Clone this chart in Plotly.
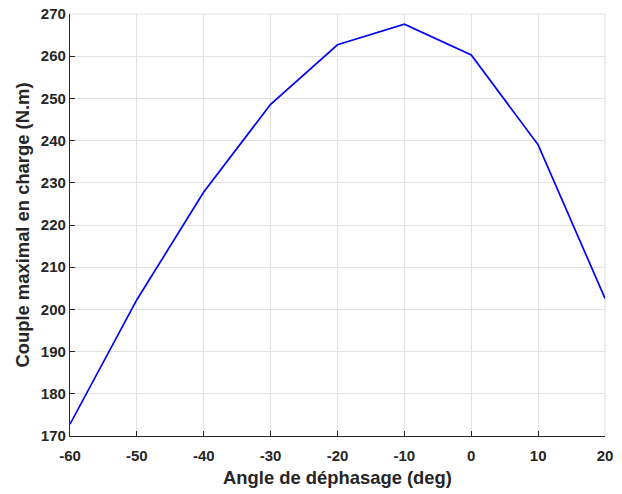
import plotly.graph_objects as go

# Phase shift angle (deg) and maximum load torque (N.m)
angle_deg = [-60, -50, -40, -30, -20, -10, 0, 10, 20]
torque_nm = [172.8, 202.3, 227.8, 248.6, 262.7, 267.6, 260.3, 239.0, 202.6]

x_ticks = [-60, -50, -40, -30, -20, -10, 0, 10, 20]
y_ticks = [170, 180, 190, 200, 210, 220, 230, 240, 250, 260, 270]

axis_color = "#262626"
grid_color = "#e1e1e1"
font_family = "Liberation Sans, Arial, sans-serif"

fig = go.Figure()
fig.add_trace(go.Scatter(
    x=angle_deg, y=torque_nm, mode="lines",
    line=dict(color="#0000ff", width=1.7),
    showlegend=False,
))

fig.update_layout(
    width=622, height=494,
    margin=dict(l=70, r=17, t=14, b=58),
    paper_bgcolor="white", plot_bgcolor="white",
    font=dict(family=font_family, color=axis_color),
    # light box edges along the top and right of the axes
    shapes=[
        dict(type="line", xref="paper", yref="paper", x0=0, x1=1, y0=1, y1=1,
             line=dict(color=grid_color, width=1.2), layer="below"),
        dict(type="line", xref="paper", yref="paper", x0=1, x1=1, y0=0, y1=1,
             line=dict(color=grid_color, width=1.2), layer="below"),
    ],
)

fig.update_xaxes(
    range=[-60, 20], tickvals=x_ticks, ticktext=[str(v) for v in x_ticks],
    showgrid=True, gridcolor=grid_color, gridwidth=1,
    showline=True, linecolor=axis_color, linewidth=1.2,
    ticks="inside", ticklen=5, tickcolor=axis_color, ticklabelstandoff=6,
    tickfont=dict(size=15, family=font_family, color=axis_color, weight="bold"),
    title=dict(text="<b>Angle de déphasage (deg)</b>", font=dict(size=18.4, color=axis_color), standoff=8),
    zeroline=False, mirror=False, automargin=False,
)
fig.update_yaxes(
    range=[170, 270], tickvals=y_ticks, ticktext=[str(v) for v in y_ticks],
    showgrid=True, gridcolor=grid_color, gridwidth=1,
    showline=True, linecolor=axis_color, linewidth=1.2,
    ticks="inside", ticklen=5, tickcolor=axis_color,
    tickfont=dict(size=15, family=font_family, color=axis_color, weight="bold"),
    title=dict(text="<b>Couple maximal en charge (N.m)</b>", font=dict(size=18.4, color=axis_color), standoff=6),
    zeroline=False, mirror=False, automargin=False,
)

fig.write_html("out.html")
